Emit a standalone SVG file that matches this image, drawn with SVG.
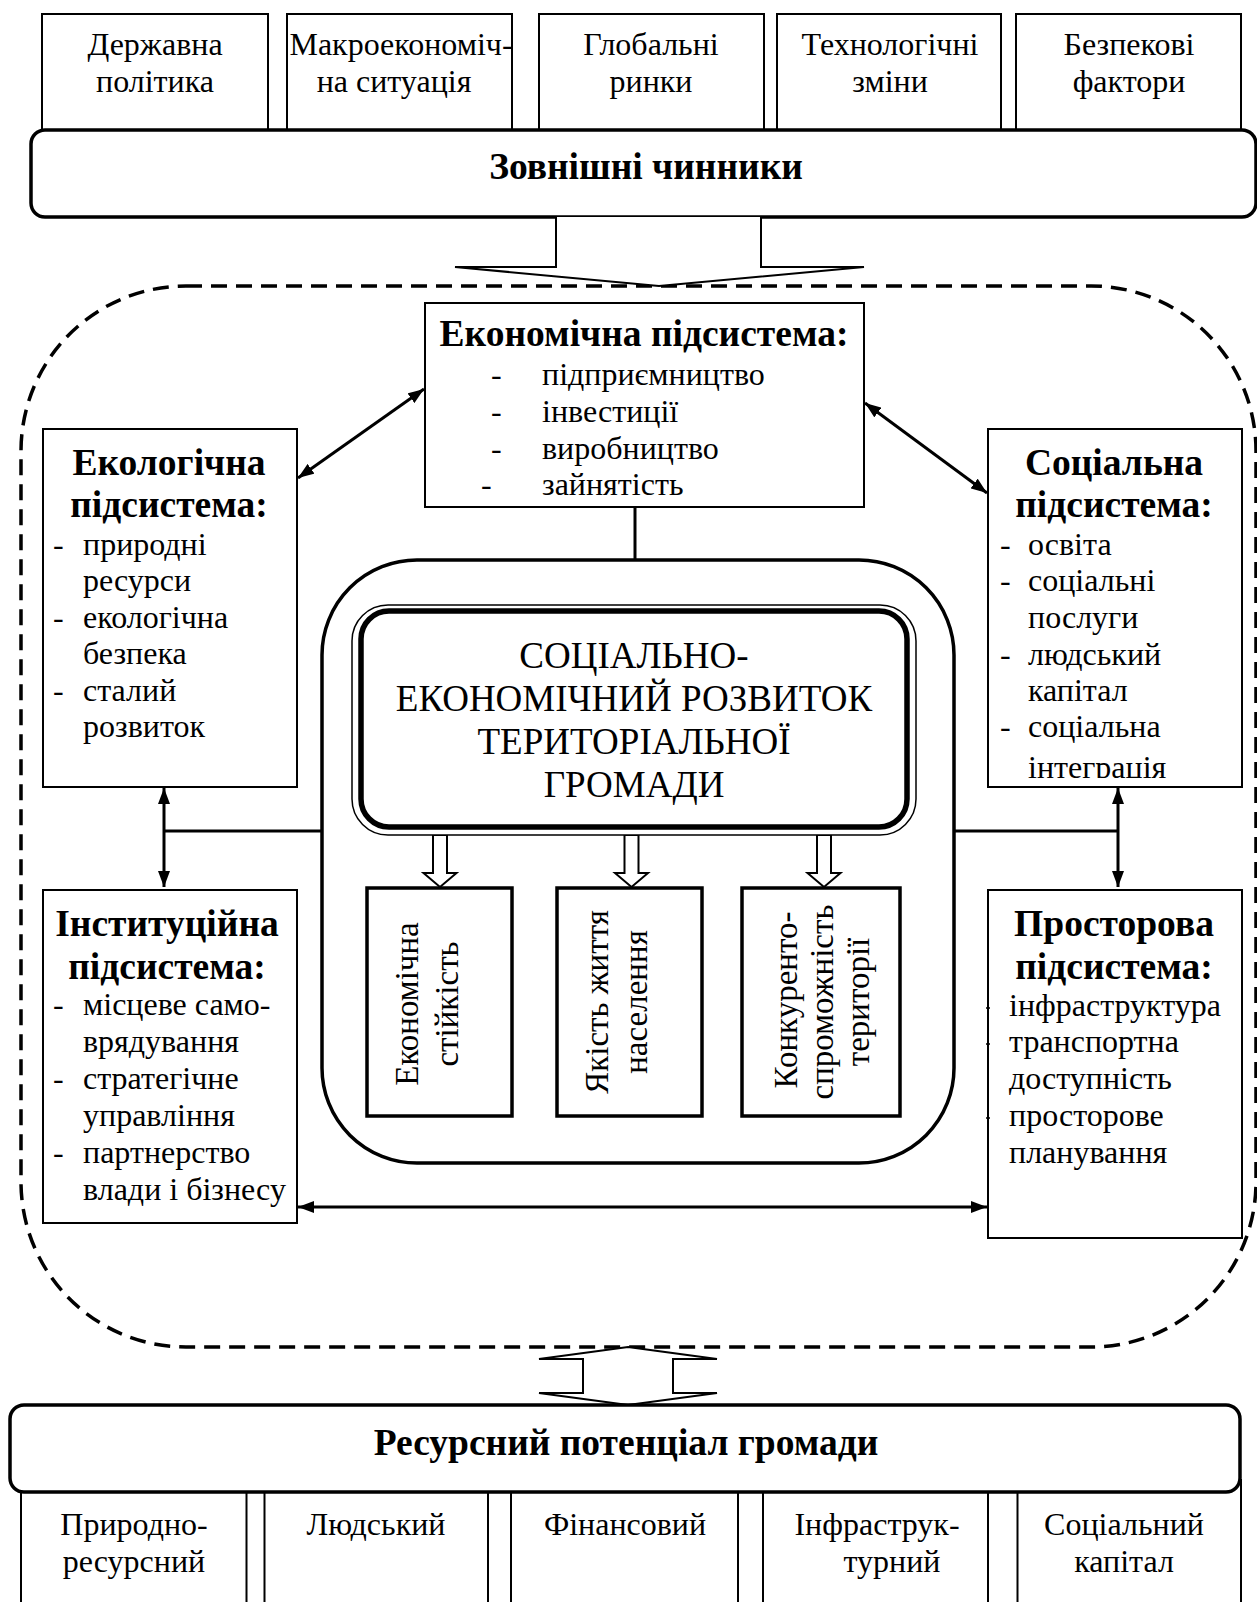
<svg xmlns="http://www.w3.org/2000/svg" width="1257" height="1602" viewBox="0 0 1257 1602">
<style>
text{font-family:"Liberation Serif","Times New Roman",serif;fill:#000}
.t{font-size:32px}
.v{font-size:33px}
.b{font-size:37.5px;font-weight:bold}
.h{font-size:37px}
.c{text-anchor:middle}
.box{fill:#fff;stroke:#000;stroke-width:2}
.tb{fill:#fff;stroke:#000;stroke-width:3.5}
.ln{fill:none;stroke:#000;stroke-width:3}
.ha{fill:#fff;stroke:#000;stroke-width:2;stroke-linejoin:miter}
</style>
<defs>
<marker id="ah" viewBox="0 0 16 12" refX="16" refY="6" markerWidth="16" markerHeight="12" markerUnits="userSpaceOnUse" orient="auto-start-reverse">
<path d="M0,0 L16,6 L0,12 z" fill="#000"/>
</marker>
<clipPath id="socClip"><rect x="988" y="429" width="254" height="349"/></clipPath>
</defs>

<!-- dashed outer boundary -->
<rect x="21" y="286" width="1235" height="1061" rx="165" ry="165" fill="none" stroke="#000" stroke-width="3.5" stroke-dasharray="16 9"/>

<!-- top external factor boxes -->
<g id="top-boxes">
<g id="n-derzh"><rect class="box" x="42" y="14" width="226" height="122"/><text class="t c" x="155" y="55">Державна</text><text class="t c" x="155" y="92">політика</text></g>
<g id="n-makro"><rect class="box" x="287" y="14" width="225" height="122"/><text class="t c" x="401" y="55">Макроекономіч-</text><text class="t c" x="394" y="92">на ситуація</text></g>
<g id="n-glob"><rect class="box" x="539" y="14" width="225" height="122"/><text class="t c" x="651" y="55">Глобальні</text><text class="t c" x="651" y="92">ринки</text></g>
<g id="n-tech"><rect class="box" x="777" y="14" width="224" height="122"/><text class="t c" x="890" y="55">Технологічні</text><text class="t c" x="890" y="92">зміни</text></g>
<g id="n-bezp"><rect class="box" x="1016" y="14" width="225" height="122"/><text class="t c" x="1129" y="55">Безпекові</text><text class="t c" x="1129" y="92">фактори</text></g>
</g>

<g id="n-zovn"><rect x="31" y="130" width="1225" height="87" rx="14" ry="14" fill="#fff" stroke="#000" stroke-width="3.5"/><text class="b c" x="646" y="179">Зовнішні чинники</text></g>

<!-- connectors -->
<g id="connectors">
<polyline class="ha" points="556,217 556,267 455,267 659,286 864,267 761,267 761,217"/>
<polygon class="ha" points="628,1347 717,1359 673,1359 673,1393 717,1393 628,1405 539,1393 583,1393 583,1359 539,1359"/>
<line class="ln" x1="635" y1="507" x2="635" y2="560"/>
<line class="ln" x1="164" y1="831" x2="322" y2="831"/>
<line class="ln" x1="164" y1="788" x2="164" y2="887" marker-start="url(#ah)" marker-end="url(#ah)"/>
<line class="ln" x1="954" y1="831" x2="1118" y2="831"/>
<line class="ln" x1="1118" y1="788" x2="1118" y2="887" marker-start="url(#ah)" marker-end="url(#ah)"/>
<line class="ln" x1="424" y1="389" x2="298" y2="478" marker-start="url(#ah)" marker-end="url(#ah)"/>
<line class="ln" x1="865" y1="403" x2="987" y2="493" marker-start="url(#ah)" marker-end="url(#ah)"/>
<line class="ln" x1="298" y1="1207" x2="987" y2="1207" marker-start="url(#ah)" marker-end="url(#ah)"/>
<polygon class="ha" points="433,835 433,873 423.5,873 440,887 456.5,873 447,873 447,835"/>
<polygon class="ha" points="624.5,835 624.5,873 615,873 631.5,887 648,873 638.5,873 638.5,835"/>
<polygon class="ha" points="817,835 817,873 807.5,873 824,887 840.5,873 831,873 831,835"/>
</g>

<!-- economic subsystem -->
<g id="n-econ">
<rect class="box" x="425" y="303" width="439" height="204"/>
<text class="b c" x="644" y="346">Економічна підсистема:</text>
<text class="t" x="491" y="385">-</text><text class="t" x="542" y="385">підприємництво</text>
<text class="t" x="491" y="422">-</text><text class="t" x="542" y="422">інвестиції</text>
<text class="t" x="491" y="459">-</text><text class="t" x="542" y="459">виробництво</text>
<text class="t" x="481" y="495">-</text><text class="t" x="542" y="495">зайнятість</text>
</g>

<g id="n-eco">
<rect class="box" x="43" y="429" width="254" height="358"/>
<text class="b c" x="169" y="475">Екологічна</text>
<text class="b c" x="169" y="517">підсистема:</text>
<text class="t" x="53" y="555">-</text><text class="t" x="83" y="555">природні</text>
<text class="t" x="83" y="591">ресурси</text>
<text class="t" x="53" y="628">-</text><text class="t" x="83" y="628">екологічна</text>
<text class="t" x="83" y="664">безпека</text>
<text class="t" x="53" y="701">-</text><text class="t" x="83" y="701">сталий</text>
<text class="t" x="83" y="737">розвиток</text>
</g>

<g id="n-soc">
<rect class="box" x="988" y="429" width="254" height="358"/>
<text class="b c" x="1114" y="475">Соціальна</text>
<text class="b c" x="1114" y="517">підсистема:</text>
<g clip-path="url(#socClip)">
<text class="t" x="1000" y="555">-</text><text class="t" x="1028" y="555">освіта</text>
<text class="t" x="1000" y="591">-</text><text class="t" x="1028" y="591">соціальні</text>
<text class="t" x="1028" y="628">послуги</text>
<text class="t" x="1000" y="665">-</text><text class="t" x="1028" y="665">людський</text>
<text class="t" x="1028" y="701">капітал</text>
<text class="t" x="1000" y="737">-</text><text class="t" x="1028" y="737">соціальна</text>
<text class="t" x="1028" y="778">інтеграція</text>
</g>
</g>

<g id="n-inst">
<rect class="box" x="43" y="890" width="254" height="333"/>
<text class="b c" x="167" y="936">Інституційна</text>
<text class="b c" x="167" y="979">підсистема:</text>
<text class="t" x="53" y="1015">-</text><text class="t" x="83" y="1015">місцеве само-</text>
<text class="t" x="83" y="1052">врядування</text>
<text class="t" x="53" y="1089">-</text><text class="t" x="83" y="1089">стратегічне</text>
<text class="t" x="83" y="1126">управління</text>
<text class="t" x="53" y="1163">-</text><text class="t" x="83" y="1163">партнерство</text>
<text class="t" x="83" y="1200">влади і бізнесу</text>
</g>

<g id="n-prost">
<rect class="box" x="988" y="890" width="254" height="348"/>
<text class="b c" x="1114" y="936">Просторова</text>
<text class="b c" x="1114" y="979">підсистема:</text>
<line x1="986" y1="1008" x2="990" y2="1008" stroke="#000" stroke-width="1.5"/>
<line x1="986" y1="1044" x2="990" y2="1044" stroke="#000" stroke-width="1.5"/>
<line x1="986" y1="1118" x2="990" y2="1118" stroke="#000" stroke-width="1.5"/>
<text class="t" x="1009" y="1016">інфраструктура</text>
<text class="t" x="1009" y="1052">транспортна</text>
<text class="t" x="1009" y="1089">доступність</text>
<text class="t" x="1009" y="1126">просторове</text>
<text class="t" x="1009" y="1163">планування</text>
</g>

<!-- central core -->
<g id="n-core">
<rect x="322" y="560" width="632" height="603" rx="95" ry="95" fill="none" stroke="#000" stroke-width="3.5"/>
</g>
<g id="n-title">
<rect x="352" y="605" width="564" height="230" rx="36" ry="36" fill="#fff" stroke="#000" stroke-width="1.5"/>
<rect x="361" y="611" width="546" height="216" rx="28" ry="28" fill="none" stroke="#000" stroke-width="5.5"/>
<text class="h c" x="634" y="668">СОЦІАЛЬНО-</text>
<text class="h c" x="634" y="711">ЕКОНОМІЧНИЙ РОЗВИТОК</text>
<text class="h c" x="634" y="754">ТЕРИТОРІАЛЬНОЇ</text>
<text class="h c" x="634" y="797">ГРОМАДИ</text>
</g>

<g id="n-stiyk">
<rect class="tb" x="367" y="888" width="145" height="228"/>
<text class="v c" transform="translate(418,1004) rotate(-90)">Економічна</text>
<text class="v c" transform="translate(458,1004) rotate(-90)">стійкість</text>
</g>
<g id="n-yakist">
<rect class="tb" x="557" y="888" width="145" height="228"/>
<text class="v c" transform="translate(608,1002) rotate(-90)">Якість життя</text>
<text class="v c" transform="translate(647,1002) rotate(-90)">населення</text>
</g>
<g id="n-konk">
<rect class="tb" x="742" y="888" width="158" height="228"/>
<text class="v c" transform="translate(797,1000) rotate(-90)">Конкуренто-</text>
<text class="v c" transform="translate(833,1002) rotate(-90)">спроможність</text>
<text class="v c" transform="translate(869,1002) rotate(-90)">території</text>
</g>

<!-- resource potential -->
<g id="bottom-boxes">
<g id="n-pryr"><rect class="box" x="21" y="1480" width="225.5" height="140"/><text class="t c" x="134" y="1535">Природно-</text><text class="t c" x="134" y="1572">ресурсний</text></g>
<g id="n-lyud"><rect class="box" x="264.5" y="1480" width="223.5" height="140"/><text class="t c" x="376" y="1535">Людський</text></g>
<g id="n-fin"><rect class="box" x="511" y="1480" width="227" height="140"/><text class="t c" x="625" y="1535">Фінансовий</text></g>
<g id="n-infr"><rect class="box" x="763" y="1480" width="225" height="140"/><text class="t c" x="877" y="1535">Інфраструк-</text><text class="t c" x="892" y="1572">турний</text></g>
<g id="n-socc"><rect class="box" x="1017.5" y="1480" width="223.5" height="140"/><text class="t c" x="1124" y="1535">Соціальний</text><text class="t c" x="1124" y="1572">капітал</text></g>
</g>
<g id="n-res"><rect x="10" y="1405" width="1230" height="87" rx="14" ry="14" fill="#fff" stroke="#000" stroke-width="3.5"/><text class="b c" x="626" y="1455">Ресурсний потенціал громади</text></g>
</svg>
